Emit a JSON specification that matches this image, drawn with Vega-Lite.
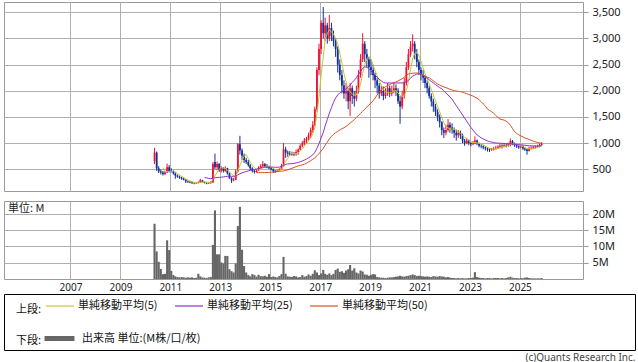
{
"$schema": "https://vega.github.io/schema/vega-lite/v6.json",
"background": "#ffffff",
"padding": {"left": 3, "top": 1, "right": 0, "bottom": 0},
"config": {
  "view": {"stroke": "#999999", "strokeWidth": 1},
  "axis": {"labelFont": "Noto Sans", "labelColor": "#222222", "gridColor": "#b0b0b0", "gridWidth": 1, "tickColor": "#999999", "domain": false},
  "legend": {"labelFont": "Noto Sans CJK JP", "titleFont": "Noto Sans CJK JP", "labelFontSize": 11, "titleFontSize": 11, "titleFontWeight": "normal", "labelColor": "#111111", "titleColor": "#111111", "orient": "none", "direction": "horizontal", "titleOrient": "left", "titleBaseline": "top", "padding": 0, "symbolType": "stroke"}
},
"title": {"text": "(c)Quants Research Inc.", "orient": "bottom", "anchor": "end", "font": "Noto Sans", "fontSize": 10, "fontWeight": "normal", "color": "#444444", "offset": 2},
"datasets": {"m": [
{"d":"2010-05-15","o":660,"h":910,"l":600,"c":820,"v":17.0},
{"d":"2010-06-15","o":820,"h":840,"l":470,"c":520,"v":8.5},
{"d":"2010-07-15","o":520,"h":560,"l":430,"c":460,"v":5.3},
{"d":"2010-08-15","o":460,"h":500,"l":400,"c":440,"v":3.1},
{"d":"2010-09-15","o":440,"h":470,"l":380,"c":410,"v":1.5,"m5":530},
{"d":"2010-10-15","o":410,"h":470,"l":390,"c":440,"v":1.6,"m5":454},
{"d":"2010-11-15","o":440,"h":610,"l":430,"c":540,"v":11.9,"m5":458},
{"d":"2010-12-15","o":540,"h":580,"l":440,"c":470,"v":8.9,"m5":460},
{"d":"2011-01-15","o":470,"h":520,"l":440,"c":460,"v":2.5,"m5":464},
{"d":"2011-02-15","o":460,"h":480,"l":400,"c":420,"v":1.2,"m5":466},
{"d":"2011-03-15","o":420,"h":440,"l":320,"c":380,"v":0.8,"m5":454},
{"d":"2011-04-15","o":380,"h":400,"l":340,"c":360,"v":0.6,"m5":418},
{"d":"2011-05-15","o":360,"h":380,"l":320,"c":340,"v":0.5,"m5":392},
{"d":"2011-06-15","o":340,"h":360,"l":300,"c":320,"v":0.6,"m5":364},
{"d":"2011-07-15","o":320,"h":345,"l":290,"c":300,"v":0.5,"m5":340},
{"d":"2011-08-15","o":300,"h":310,"l":240,"c":270,"v":0.4,"m5":318},
{"d":"2011-09-15","o":270,"h":285,"l":240,"c":260,"v":0.5,"m5":298},
{"d":"2011-10-15","o":260,"h":275,"l":235,"c":250,"v":0.4,"m5":280},
{"d":"2011-11-15","o":250,"h":260,"l":220,"c":240,"v":0.5,"m5":264},
{"d":"2011-12-15","o":240,"h":250,"l":215,"c":235,"v":0.3,"m5":251},
{"d":"2012-01-15","o":235,"h":255,"l":220,"c":240,"v":0.4,"m5":245},
{"d":"2012-02-15","o":240,"h":270,"l":230,"c":250,"v":1.6,"m5":243},
{"d":"2012-03-15","o":250,"h":320,"l":245,"c":290,"v":0.8,"m5":251},
{"d":"2012-04-15","o":290,"h":300,"l":250,"c":260,"v":0.5,"m5":255},
{"d":"2012-05-15","o":260,"h":265,"l":230,"c":240,"v":0.4,"m5":256,"m25":345},
{"d":"2012-06-15","o":240,"h":250,"l":215,"c":230,"v":0.3,"m5":254,"m25":335},
{"d":"2012-07-15","o":230,"h":250,"l":220,"c":235,"v":0.5,"m5":251,"m25":328},
{"d":"2012-08-15","o":235,"h":270,"l":225,"c":250,"v":0.6,"m5":243,"m25":322},
{"d":"2012-09-15","o":250,"h":640,"l":245,"c":600,"v":10.5,"m5":311,"m25":330},
{"d":"2012-10-15","o":640,"h":800,"l":500,"c":540,"v":21.1,"m5":371,"m25":337},
{"d":"2012-11-15","o":540,"h":650,"l":480,"c":600,"v":7.6,"m5":445,"m25":345},
{"d":"2012-12-15","o":600,"h":620,"l":450,"c":480,"v":7.6,"m5":494,"m25":345},
{"d":"2013-01-15","o":480,"h":560,"l":440,"c":520,"v":5.1,"m5":548,"m25":350},
{"d":"2013-02-15","o":520,"h":540,"l":440,"c":470,"v":4.8,"m5":522,"m25":355},
{"d":"2013-03-15","o":470,"h":560,"l":450,"c":520,"v":7.1,"m5":518,"m25":362},
{"d":"2013-04-15","o":520,"h":530,"l":400,"c":420,"v":7.1,"m5":482,"m25":366},
{"d":"2013-05-15","o":420,"h":440,"l":320,"c":330,"v":3.0,"m5":452,"m25":367},
{"d":"2013-06-15","o":330,"h":350,"l":240,"c":290,"v":2.4,"m5":406,"m25":366},
{"d":"2013-07-15","o":290,"h":340,"l":270,"c":300,"v":2.0,"m5":372,"m25":366},
{"d":"2013-08-15","o":300,"h":500,"l":290,"c":460,"v":4.8,"m5":360,"m25":370},
{"d":"2013-09-15","o":460,"h":1000,"l":440,"c":980,"v":16.3,"m5":472,"m25":395},
{"d":"2013-10-15","o":980,"h":1140,"l":780,"c":860,"v":22.2,"m5":578,"m25":414},
{"d":"2013-11-15","o":860,"h":900,"l":680,"c":760,"v":9.0,"m5":672,"m25":432},
{"d":"2013-12-15","o":760,"h":800,"l":620,"c":680,"v":4.0,"m5":748,"m25":446},
{"d":"2014-01-15","o":680,"h":720,"l":600,"c":640,"v":2.0,"m5":784,"m25":459},
{"d":"2014-02-15","o":640,"h":680,"l":550,"c":580,"v":1.2,"m5":704,"m25":470},
{"d":"2014-03-15","o":580,"h":600,"l":480,"c":520,"v":0.8,"m5":636,"m25":481},
{"d":"2014-04-15","o":520,"h":540,"l":440,"c":470,"v":1.5,"m5":578,"m25":487},
{"d":"2014-05-15","o":470,"h":490,"l":420,"c":450,"v":1.2,"m5":532,"m25":494},
{"d":"2014-06-15","o":450,"h":500,"l":440,"c":480,"v":0.7,"m5":500,"m25":504,"m50":440},
{"d":"2014-07-15","o":480,"h":560,"l":470,"c":530,"v":1.3,"m5":490,"m25":515,"m50":438},
{"d":"2014-08-15","o":530,"h":600,"l":510,"c":560,"v":0.9,"m5":498,"m25":526,"m50":437},
{"d":"2014-09-15","o":560,"h":660,"l":540,"c":600,"v":0.8,"m5":524,"m25":538,"m50":437},
{"d":"2014-10-15","o":600,"h":620,"l":530,"c":560,"v":1.0,"m5":546,"m25":542,"m50":438},
{"d":"2014-11-15","o":560,"h":600,"l":520,"c":540,"v":0.7,"m5":558,"m25":544,"m50":440},
{"d":"2014-12-15","o":540,"h":570,"l":500,"c":520,"v":1.5,"m5":556,"m25":543,"m50":442},
{"d":"2015-01-15","o":520,"h":540,"l":480,"c":500,"v":0.6,"m5":544,"m25":543,"m50":445},
{"d":"2015-02-15","o":500,"h":520,"l":430,"c":470,"v":0.8,"m5":518,"m25":542,"m50":448},
{"d":"2015-03-15","o":470,"h":490,"l":430,"c":460,"v":0.6,"m5":498,"m25":540,"m50":452},
{"d":"2015-04-15","o":460,"h":500,"l":450,"c":480,"v":0.5,"m5":486,"m25":539,"m50":456},
{"d":"2015-05-15","o":480,"h":520,"l":470,"c":500,"v":0.9,"m5":482,"m25":543,"m50":460},
{"d":"2015-06-15","o":500,"h":600,"l":490,"c":560,"v":1.5,"m5":494,"m25":555,"m50":465},
{"d":"2015-07-15","o":560,"h":1000,"l":550,"c":880,"v":6.8,"m5":576,"m25":577,"m50":470},
{"d":"2015-08-15","o":880,"h":930,"l":720,"c":820,"v":1.6,"m5":648,"m25":594,"m50":480},
{"d":"2015-09-15","o":820,"h":860,"l":740,"c":800,"v":0.8,"m5":712,"m25":604,"m50":492},
{"d":"2015-10-15","o":800,"h":850,"l":760,"c":780,"v":0.7,"m5":768,"m25":605,"m50":505},
{"d":"2015-11-15","o":780,"h":840,"l":760,"c":800,"v":0.6,"m5":816,"m25":609,"m50":520},
{"d":"2015-12-15","o":800,"h":830,"l":750,"c":790,"v":0.9,"m5":798,"m25":614,"m50":535},
{"d":"2016-01-15","o":790,"h":880,"l":760,"c":830,"v":0.8,"m5":800,"m25":622,"m50":550},
{"d":"2016-02-15","o":830,"h":900,"l":780,"c":880,"v":0.5,"m5":816,"m25":632,"m50":565},
{"d":"2016-03-15","o":880,"h":980,"l":860,"c":950,"v":0.6,"m5":850,"m25":645,"m50":575},
{"d":"2016-04-15","o":950,"h":1040,"l":920,"c":1000,"v":1.2,"m5":890,"m25":659,"m50":588},
{"d":"2016-05-15","o":1000,"h":1100,"l":960,"c":1050,"v":0.7,"m5":942,"m25":676,"m50":600},
{"d":"2016-06-15","o":1050,"h":1120,"l":990,"c":1080,"v":0.9,"m5":992,"m25":696,"m50":615},
{"d":"2016-07-15","o":1080,"h":1200,"l":1050,"c":1150,"v":1.4,"m5":1046,"m25":720,"m50":640},
{"d":"2016-08-15","o":1150,"h":1300,"l":1100,"c":1250,"v":1.0,"m5":1106,"m25":746,"m50":665},
{"d":"2016-09-15","o":1250,"h":1420,"l":1200,"c":1350,"v":1.6,"m5":1176,"m25":777,"m50":690},
{"d":"2016-10-15","o":1350,"h":1700,"l":1320,"c":1650,"v":2.7,"m5":1296,"m25":823,"m50":720},
{"d":"2016-11-15","o":1650,"h":2450,"l":1600,"c":2400,"v":2.0,"m5":1560,"m25":900,"m50":760},
{"d":"2016-12-15","o":2400,"h":2900,"l":2300,"c":2800,"v":1.2,"m5":1890,"m25":990,"m50":800},
{"d":"2017-01-15","o":2800,"h":3350,"l":2700,"c":3300,"v":1.7,"m5":2300,"m25":1100,"m50":850},
{"d":"2017-02-15","o":3300,"h":3600,"l":3000,"c":3100,"v":2.8,"m5":2650,"m25":1200,"m50":900},
{"d":"2017-03-15","o":3100,"h":3400,"l":2950,"c":3250,"v":1.6,"m5":2970,"m25":1330,"m50":960},
{"d":"2017-04-15","o":3250,"h":3300,"l":2900,"c":3000,"v":1.3,"m5":3090,"m25":1450,"m50":1020},
{"d":"2017-05-15","o":3000,"h":3450,"l":2950,"c":3200,"v":1.7,"m5":3170,"m25":1570,"m50":1080},
{"d":"2017-06-15","o":3200,"h":3300,"l":2950,"c":3050,"v":1.2,"m5":3120,"m25":1680,"m50":1130},
{"d":"2017-07-15","o":3050,"h":3150,"l":2850,"c":2950,"v":1.6,"m5":3090,"m25":1780,"m50":1170},
{"d":"2017-08-15","o":2950,"h":3000,"l":2650,"c":2800,"v":2.8,"m5":3000,"m25":1860,"m50":1200},
{"d":"2017-09-15","o":2800,"h":2850,"l":2350,"c":2500,"v":3.2,"m5":2900,"m25":1920,"m50":1225},
{"d":"2017-10-15","o":2500,"h":2600,"l":2200,"c":2300,"v":2.2,"m5":2720,"m25":1960,"m50":1250},
{"d":"2017-11-15","o":2300,"h":2400,"l":1950,"c":2100,"v":2.4,"m5":2530,"m25":1990,"m50":1275},
{"d":"2017-12-15","o":2100,"h":2200,"l":1850,"c":1950,"v":1.9,"m5":2330,"m25":2010,"m50":1295},
{"d":"2018-01-15","o":1950,"h":2150,"l":1800,"c":2000,"v":2.6,"m5":2170,"m25":2040,"m50":1320},
{"d":"2018-02-15","o":2000,"h":2050,"l":1650,"c":1800,"v":3.0,"m5":2030,"m25":2070,"m50":1350},
{"d":"2018-03-15","o":1800,"h":2150,"l":1520,"c":2050,"v":4.3,"m5":1980,"m25":2110,"m50":1385},
{"d":"2018-04-15","o":2050,"h":2100,"l":1750,"c":1900,"v":2.6,"m5":1940,"m25":2160,"m50":1415},
{"d":"2018-05-15","o":1900,"h":2000,"l":1700,"c":1850,"v":3.3,"m5":1920,"m25":2200,"m50":1450},
{"d":"2018-06-15","o":1850,"h":2100,"l":1800,"c":2000,"v":2.0,"m5":1920,"m25":2250,"m50":1490},
{"d":"2018-07-15","o":2000,"h":2400,"l":1950,"c":2300,"v":1.7,"m5":2020,"m25":2310,"m50":1530},
{"d":"2018-08-15","o":2300,"h":2700,"l":2250,"c":2600,"v":2.6,"m5":2130,"m25":2370,"m50":1570},
{"d":"2018-09-15","o":2600,"h":3100,"l":2550,"c":2900,"v":2.3,"m5":2330,"m25":2430,"m50":1610},
{"d":"2018-10-15","o":2900,"h":2950,"l":2550,"c":2700,"v":1.4,"m5":2500,"m25":2460,"m50":1650},
{"d":"2018-11-15","o":2700,"h":2800,"l":2450,"c":2600,"v":1.3,"m5":2620,"m25":2450,"m50":1690},
{"d":"2018-12-15","o":2600,"h":2650,"l":2250,"c":2450,"v":1.0,"m5":2650,"m25":2420,"m50":1730},
{"d":"2019-01-15","o":2450,"h":2600,"l":2300,"c":2400,"v":1.3,"m5":2610,"m25":2380,"m50":1770},
{"d":"2019-02-15","o":2400,"h":2500,"l":2200,"c":2300,"v":1.5,"m5":2490,"m25":2340,"m50":1810},
{"d":"2019-03-15","o":2300,"h":2350,"l":2050,"c":2200,"v":1.4,"m5":2390,"m25":2300,"m50":1860},
{"d":"2019-04-15","o":2200,"h":2250,"l":1950,"c":2100,"v":0.6,"m5":2290,"m25":2260,"m50":1920},
{"d":"2019-05-15","o":2100,"h":2150,"l":1850,"c":1950,"v":0.5,"m5":2190,"m25":2220,"m50":1980},
{"d":"2019-06-15","o":1950,"h":2100,"l":1900,"c":2000,"v":0.4,"m5":2110,"m25":2190,"m50":2020},
{"d":"2019-07-15","o":2000,"h":2080,"l":1820,"c":1900,"v":0.4,"m5":2030,"m25":2160,"m50":2050},
{"d":"2019-08-15","o":1900,"h":2050,"l":1850,"c":1950,"v":0.3,"m5":1980,"m25":2150,"m50":2080},
{"d":"2019-09-15","o":1950,"h":2150,"l":1900,"c":2050,"v":0.4,"m5":1970,"m25":2150,"m50":2100},
{"d":"2019-10-15","o":2050,"h":2100,"l":1880,"c":1950,"v":0.5,"m5":1970,"m25":2150,"m50":2120},
{"d":"2019-11-15","o":1950,"h":2100,"l":1900,"c":2000,"v":0.5,"m5":1970,"m25":2150,"m50":2140},
{"d":"2019-12-15","o":2000,"h":2150,"l":1950,"c":2050,"v":0.6,"m5":2000,"m25":2150,"m50":2155},
{"d":"2020-01-15","o":2050,"h":2120,"l":1900,"c":2000,"v":0.7,"m5":2010,"m25":2150,"m50":2170},
{"d":"2020-02-15","o":2000,"h":2050,"l":1750,"c":1800,"v":0.8,"m5":1960,"m25":2150,"m50":2190},
{"d":"2020-03-15","o":1800,"h":1900,"l":1370,"c":1700,"v":1.0,"m5":1910,"m25":2150,"m50":2210},
{"d":"2020-04-15","o":1700,"h":2000,"l":1650,"c":1900,"v":0.8,"m5":1890,"m25":2150,"m50":2230},
{"d":"2020-05-15","o":1900,"h":2250,"l":1850,"c":2150,"v":0.7,"m5":1910,"m25":2160,"m50":2260},
{"d":"2020-06-15","o":2150,"h":2550,"l":2100,"c":2450,"v":0.9,"m5":2000,"m25":2170,"m50":2300},
{"d":"2020-07-15","o":2450,"h":2800,"l":2400,"c":2700,"v":1.0,"m5":2180,"m25":2200,"m50":2320},
{"d":"2020-08-15","o":2700,"h":2950,"l":2650,"c":2850,"v":1.2,"m5":2410,"m25":2240,"m50":2330},
{"d":"2020-09-15","o":2850,"h":3080,"l":2750,"c":2900,"v":1.4,"m5":2610,"m25":2280,"m50":2335},
{"d":"2020-10-15","o":2900,"h":2950,"l":2600,"c":2700,"v":1.2,"m5":2720,"m25":2300,"m50":2340},
{"d":"2020-11-15","o":2700,"h":2800,"l":2450,"c":2550,"v":0.9,"m5":2740,"m25":2320,"m50":2340},
{"d":"2020-12-15","o":2550,"h":2600,"l":2300,"c":2400,"v":1.0,"m5":2680,"m25":2330,"m50":2335},
{"d":"2021-01-15","o":2400,"h":2450,"l":2200,"c":2300,"v":0.9,"m5":2570,"m25":2320,"m50":2320},
{"d":"2021-02-15","o":2300,"h":2400,"l":2150,"c":2250,"v":0.8,"m5":2440,"m25":2300,"m50":2300},
{"d":"2021-03-15","o":2250,"h":2300,"l":2050,"c":2150,"v":0.7,"m5":2330,"m25":2270,"m50":2280},
{"d":"2021-04-15","o":2150,"h":2200,"l":1950,"c":2050,"v":0.8,"m5":2230,"m25":2240,"m50":2260},
{"d":"2021-05-15","o":2050,"h":2100,"l":1850,"c":1900,"v":0.7,"m5":2130,"m25":2210,"m50":2250},
{"d":"2021-06-15","o":1900,"h":1950,"l":1700,"c":1800,"v":0.6,"m5":2030,"m25":2180,"m50":2220},
{"d":"2021-07-15","o":1800,"h":1850,"l":1600,"c":1700,"v":0.9,"m5":1920,"m25":2150,"m50":2190},
{"d":"2021-08-15","o":1700,"h":1750,"l":1520,"c":1600,"v":0.8,"m5":1810,"m25":2120,"m50":2160},
{"d":"2021-09-15","o":1600,"h":1650,"l":1420,"c":1500,"v":0.7,"m5":1700,"m25":2090,"m50":2130},
{"d":"2021-10-15","o":1500,"h":1550,"l":1300,"c":1400,"v":0.9,"m5":1600,"m25":2060,"m50":2110},
{"d":"2021-11-15","o":1400,"h":1420,"l":1150,"c":1250,"v":0.8,"m5":1490,"m25":2040,"m50":2090},
{"d":"2021-12-15","o":1250,"h":1300,"l":1100,"c":1200,"v":0.7,"m5":1390,"m25":2000,"m50":2075},
{"d":"2022-01-15","o":1200,"h":1350,"l":1150,"c":1250,"v":0.5,"m5":1320,"m25":1960,"m50":2060},
{"d":"2022-02-15","o":1250,"h":1460,"l":1220,"c":1350,"v":0.6,"m5":1290,"m25":1920,"m50":2045},
{"d":"2022-03-15","o":1350,"h":1400,"l":1200,"c":1300,"v":0.4,"m5":1270,"m25":1880,"m50":2030},
{"d":"2022-04-15","o":1300,"h":1380,"l":1180,"c":1250,"v":0.3,"m5":1270,"m25":1840,"m50":2015},
{"d":"2022-05-15","o":1250,"h":1300,"l":1100,"c":1200,"v":0.3,"m5":1270,"m25":1780,"m50":2005},
{"d":"2022-06-15","o":1200,"h":1260,"l":1050,"c":1150,"v":0.2,"m5":1250,"m25":1720,"m50":1995},
{"d":"2022-07-15","o":1150,"h":1250,"l":1100,"c":1200,"v":0.3,"m5":1220,"m25":1660,"m50":1990},
{"d":"2022-08-15","o":1200,"h":1240,"l":1080,"c":1150,"v":0.2,"m5":1190,"m25":1600,"m50":1982},
{"d":"2022-09-15","o":1150,"h":1180,"l":1000,"c":1050,"v":0.3,"m5":1150,"m25":1540,"m50":1975},
{"d":"2022-10-15","o":1050,"h":1080,"l":950,"c":1000,"v":0.2,"m5":1110,"m25":1480,"m50":1960},
{"d":"2022-11-15","o":1000,"h":1100,"l":980,"c":1050,"v":0.2,"m5":1090,"m25":1420,"m50":1945},
{"d":"2022-12-15","o":1050,"h":1070,"l":960,"c":1000,"v":0.3,"m5":1050,"m25":1360,"m50":1930},
{"d":"2023-01-15","o":1000,"h":1030,"l":940,"c":980,"v":0.3,"m5":1016,"m25":1300,"m50":1915},
{"d":"2023-02-15","o":980,"h":1040,"l":960,"c":1000,"v":0.4,"m5":1006,"m25":1250,"m50":1900},
{"d":"2023-03-15","o":1000,"h":1130,"l":980,"c":1050,"v":2.1,"m5":1016,"m25":1200,"m50":1880},
{"d":"2023-04-15","o":1050,"h":1070,"l":960,"c":1000,"v":0.6,"m5":1006,"m25":1160,"m50":1860},
{"d":"2023-05-15","o":1000,"h":1010,"l":920,"c":950,"v":0.4,"m5":996,"m25":1130,"m50":1830},
{"d":"2023-06-15","o":950,"h":980,"l":900,"c":940,"v":0.3,"m5":988,"m25":1100,"m50":1790},
{"d":"2023-07-15","o":940,"h":960,"l":880,"c":920,"v":0.3,"m5":972,"m25":1080,"m50":1750},
{"d":"2023-08-15","o":920,"h":940,"l":860,"c":900,"v":0.2,"m5":942,"m25":1060,"m50":1710},
{"d":"2023-09-15","o":900,"h":920,"l":840,"c":880,"v":0.3,"m5":918,"m25":1040,"m50":1650},
{"d":"2023-10-15","o":880,"h":900,"l":830,"c":870,"v":0.3,"m5":902,"m25":1030,"m50":1625},
{"d":"2023-11-15","o":870,"h":910,"l":850,"c":880,"v":0.2,"m5":890,"m25":1020,"m50":1600},
{"d":"2023-12-15","o":880,"h":930,"l":860,"c":900,"v":0.3,"m5":886,"m25":1010,"m50":1570},
{"d":"2024-01-15","o":900,"h":950,"l":880,"c":910,"v":0.3,"m5":888,"m25":1005,"m50":1530},
{"d":"2024-02-15","o":910,"h":960,"l":890,"c":930,"v":0.3,"m5":898,"m25":1000,"m50":1490},
{"d":"2024-03-15","o":930,"h":990,"l":900,"c":950,"v":0.2,"m5":914,"m25":998,"m50":1460},
{"d":"2024-04-15","o":950,"h":980,"l":900,"c":940,"v":0.3,"m5":926,"m25":995,"m50":1450},
{"d":"2024-05-15","o":940,"h":1000,"l":920,"c":960,"v":0.2,"m5":938,"m25":993,"m50":1440},
{"d":"2024-06-15","o":960,"h":990,"l":920,"c":950,"v":0.3,"m5":946,"m25":990,"m50":1420},
{"d":"2024-07-15","o":950,"h":1010,"l":930,"c":980,"v":0.5,"m5":956,"m25":988,"m50":1390},
{"d":"2024-08-15","o":980,"h":1090,"l":940,"c":1040,"v":0.7,"m5":974,"m25":985,"m50":1340},
{"d":"2024-09-15","o":1040,"h":1060,"l":960,"c":990,"v":0.4,"m5":984,"m25":983,"m50":1280},
{"d":"2024-10-15","o":990,"h":1010,"l":930,"c":960,"v":0.3,"m5":984,"m25":980,"m50":1220},
{"d":"2024-11-15","o":960,"h":980,"l":910,"c":940,"v":0.3,"m5":982,"m25":975,"m50":1185},
{"d":"2024-12-15","o":940,"h":960,"l":890,"c":920,"v":0.2,"m5":970,"m25":970,"m50":1160},
{"d":"2025-01-15","o":920,"h":970,"l":900,"c":940,"v":0.3,"m5":950,"m25":968,"m50":1140},
{"d":"2025-02-15","o":940,"h":960,"l":870,"c":900,"v":0.2,"m5":932,"m25":965,"m50":1120},
{"d":"2025-03-15","o":900,"h":920,"l":850,"c":880,"v":0.4,"m5":916,"m25":960,"m50":1100},
{"d":"2025-04-15","o":880,"h":900,"l":780,"c":850,"v":0.5,"m5":898,"m25":955,"m50":1085},
{"d":"2025-05-15","o":850,"h":930,"l":840,"c":900,"v":0.3,"m5":894,"m25":950,"m50":1070},
{"d":"2025-06-15","o":900,"h":940,"l":880,"c":910,"v":0.2,"m5":888,"m25":948,"m50":1055},
{"d":"2025-07-15","o":910,"h":950,"l":890,"c":920,"v":0.2,"m5":892,"m25":946,"m50":1040},
{"d":"2025-08-15","o":920,"h":960,"l":900,"c":930,"v":0.2,"m5":902,"m25":945,"m50":1025},
{"d":"2025-09-15","o":930,"h":970,"l":910,"c":940,"v":0.2,"m5":920,"m25":945,"m50":1015},
{"d":"2025-10-15","o":940,"h":990,"l":920,"c":960,"v":0.2,"m5":932,"m25":947,"m50":1005},
{"d":"2025-11-15","o":960,"h":1020,"l":950,"c":990,"v":0.3,"m5":948,"m25":950,"m50":1000}
]},
"spacing": 0,
"vconcat": [
 {"spacing": 8, "vconcat": [
  {"width": 579, "height": 189,
   "data": {"name": "m"},
   "encoding": {"x": {"field": "d", "type": "temporal",
      "scale": {"type": "utc", "domain": [{"year": 2004, "month": 7, "date": 16, "utc": true}, {"year": 2027, "month": 5, "date": 1, "utc": true}]},
      "axis": {"values": [{"year":2007,"month":1,"date":1,"utc":true},{"year":2009,"month":1,"date":1,"utc":true},{"year":2011,"month":1,"date":1,"utc":true},{"year":2013,"month":1,"date":1,"utc":true},{"year":2015,"month":1,"date":1,"utc":true},{"year":2017,"month":1,"date":1,"utc":true},{"year":2019,"month":1,"date":1,"utc":true},{"year":2021,"month":1,"date":1,"utc":true},{"year":2023,"month":1,"date":1,"utc":true},{"year":2025,"month":1,"date":1,"utc":true}], "labels": false, "ticks": false, "grid": true, "title": null}}},
   "layer": [
    {"mark": {"type": "rule", "strokeWidth": 1},
     "encoding": {
      "y": {"field": "l", "type": "quantitative", "scale": {"domain": [86, 3697], "nice": false, "zero": false}, "axis": {"orient": "right", "values": [500,1000,1500,2000,2500,3000,3500], "format": ",d", "grid": true, "tickSize": 5, "labelPadding": 4, "labelFontSize": 11, "title": null}},
      "y2": {"field": "h"},
      "color": {"condition": {"test": "datum.c >= datum.o", "value": "#ee1133"}, "value": "#112f96"}}},
    {"mark": {"type": "bar", "size": 1.8},
     "encoding": {
      "y": {"field": "o", "type": "quantitative", "axis": {"orient": "right", "values": [500,1000,1500,2000,2500,3000,3500], "format": ",d", "grid": true, "tickSize": 5, "labelPadding": 4, "labelFontSize": 11, "title": null}},
      "y2": {"field": "c"},
      "color": {"condition": {"test": "datum.c >= datum.o", "value": "#ee1133"}, "value": "#112f96"}}},
    {"transform": [{"fold": ["m5", "m25", "m50"], "as": ["k", "val"]}, {"filter": "isValid(datum.val)"}],
     "mark": {"type": "line", "strokeWidth": 1},
     "encoding": {
      "y": {"field": "val", "type": "quantitative", "axis": {"orient": "right", "values": [500,1000,1500,2000,2500,3000,3500], "format": ",d", "grid": true, "tickSize": 5, "labelPadding": 4, "labelFontSize": 11, "title": null}},
      "color": {"field": "k", "type": "nominal",
        "scale": {"domain": ["m5", "m25", "m50"], "range": ["#c3c82c", "#9030cc", "#dd5020"]},
        "legend": {"title": ["", "上段:"], "titleLineHeight": 6, "labelExpr": "datum.value == 'm5' ? '単純移動平均(5)' : datum.value == 'm25' ? '単純移動平均(25)' : '単純移動平均(50)'", "legendX": 12, "legendY": 289, "symbolSize": 784, "symbolStrokeWidth": 1.2, "columnPadding": 14, "labelOffset": 3, "titlePadding": 3}}}}
   ]},
  {"width": 579, "height": 78,
   "data": {"name": "m"},
   "title": {"text": "単位: M", "anchor": "start", "offset": -13, "font": "Noto Sans CJK JP", "fontSize": 11, "fontWeight": "normal", "color": "#222222", "dx": 4},
   "mark": {"type": "bar", "size": 2.1},
   "encoding": {
    "x": {"field": "d", "type": "temporal",
      "scale": {"type": "utc", "domain": [{"year": 2004, "month": 7, "date": 16, "utc": true}, {"year": 2027, "month": 5, "date": 1, "utc": true}]},
      "axis": {"values": [{"year":2007,"month":1,"date":1,"utc":true},{"year":2009,"month":1,"date":1,"utc":true},{"year":2011,"month":1,"date":1,"utc":true},{"year":2013,"month":1,"date":1,"utc":true},{"year":2015,"month":1,"date":1,"utc":true},{"year":2017,"month":1,"date":1,"utc":true},{"year":2019,"month":1,"date":1,"utc":true},{"year":2021,"month":1,"date":1,"utc":true},{"year":2023,"month":1,"date":1,"utc":true},{"year":2025,"month":1,"date":1,"utc":true}], "format": "%Y", "grid": true, "ticks": false, "labelPadding": 3, "labelFontSize": 10, "title": null}},
    "y": {"field": "v", "type": "quantitative", "scale": {"domain": [0, 24], "nice": false}, "axis": {"orient": "right", "values": [5, 10, 15, 20], "labelExpr": "datum.value + 'M'", "grid": true, "tickSize": 5, "labelPadding": 4, "labelFontSize": 11, "title": null}},
    "fill": {"datum": "vol", "type": "nominal", "scale": {"domain": ["vol"], "range": ["#666666"]},
      "legend": {"title": ["", "下段:"], "titleLineHeight": 1, "labelExpr": "'出来高 単位:(M株/口/枚)'", "legendX": 12, "legendY": 319, "symbolSize": 900, "symbolStrokeWidth": 5, "symbolStrokeColor": "#666666", "labelOffset": 5, "titlePadding": 0}}
   }}
 ]},
 {"width": 631, "height": 56, "view": {"stroke": "#000000", "strokeWidth": 1},
  "data": {"values": []}, "mark": "text", "encoding": {}}
]
}
